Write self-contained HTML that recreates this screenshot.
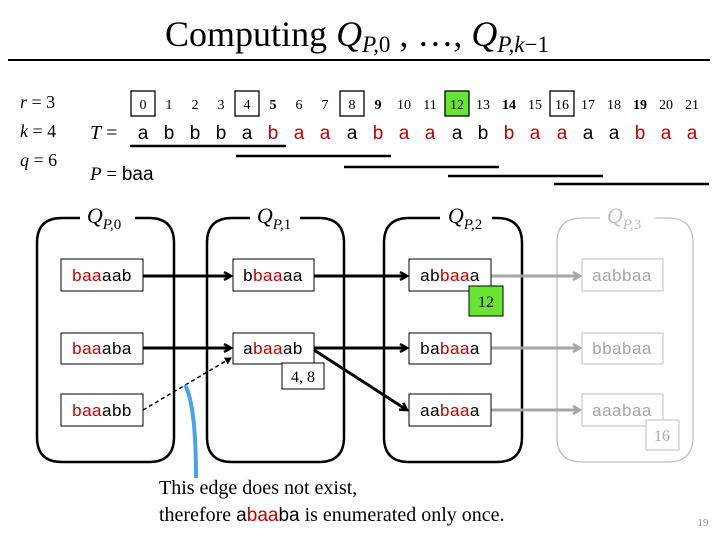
<!DOCTYPE html>
<html><head><meta charset="utf-8"><style>
html,body{margin:0;padding:0;background:#fff;}
svg{display:block;}
.s{font-family:"Liberation Serif",serif;}
.a{font-family:"Liberation Sans",sans-serif;}
</style></head><body>
<svg width="720" height="540" viewBox="0 0 720 540" xmlns="http://www.w3.org/2000/svg">
<defs>
<marker id="ab" markerWidth="10" markerHeight="10" refX="8" refY="5" orient="auto" markerUnits="userSpaceOnUse"><path d="M1,1 L8,5 L1,9" fill="none" stroke="#000" stroke-width="2.5"/></marker>
<marker id="ag" markerWidth="10" markerHeight="10" refX="8" refY="5" orient="auto" markerUnits="userSpaceOnUse"><path d="M1,1 L8,5 L1,9" fill="none" stroke="#a6a6a6" stroke-width="2.5"/></marker>
<marker id="ad" markerWidth="8" markerHeight="8" refX="6" refY="4" orient="auto" markerUnits="userSpaceOnUse"><path d="M0,0 L7,4 L0,8 z" fill="#000"/></marker>
</defs>
<!-- title -->
<text x="357" y="46" text-anchor="middle" class="s" font-size="36">Computing <tspan font-style="italic">Q</tspan><tspan font-style="italic" font-size="23" dy="6">P,</tspan><tspan font-size="23">0</tspan><tspan dy="-6"> , …, </tspan><tspan font-style="italic">Q</tspan><tspan font-style="italic" font-size="23" dy="6">P,k</tspan><tspan font-size="23">−1</tspan></text>
<line x1="8" y1="60" x2="710" y2="60" stroke="#000" stroke-width="2"/>
<!-- params -->
<g class="s" font-size="18">
<text x="20" y="108"><tspan font-style="italic">r</tspan> = 3</text>
<text x="20" y="137"><tspan font-style="italic">k</tspan> = 4</text>
<text x="20" y="166"><tspan font-style="italic">q</tspan> = 6</text>
</g>
<!-- index boxes -->
<g fill="none" stroke="#000" stroke-width="1.3">
<rect x="131" y="91" width="24" height="25"/>
<rect x="235" y="91" width="24" height="25"/>
<rect x="340" y="91" width="24" height="25"/>
<rect x="550" y="91" width="24" height="25"/>
</g>
<rect x="445" y="91" width="24" height="25" fill="#66e633" stroke="#000" stroke-width="1.3"/>
<g class="s" font-size="14" text-anchor="middle">
<text x="143" y="109">0</text><text x="169" y="109">1</text><text x="195" y="109">2</text><text x="221" y="109">3</text><text x="247" y="109">4</text><text x="273" y="109" font-weight="bold">5</text><text x="299" y="109">6</text><text x="325" y="109">7</text><text x="352" y="109">8</text><text x="378" y="109" font-weight="bold">9</text><text x="404" y="109">10</text><text x="430" y="109">11</text><text x="457" y="109">12</text><text x="483" y="109">13</text><text x="509" y="109" font-weight="bold">14</text><text x="535" y="109">15</text><text x="562" y="109">16</text><text x="588" y="109">17</text><text x="614" y="109">18</text><text x="640" y="109" font-weight="bold">19</text><text x="666" y="109">20</text><text x="692" y="109">21</text>
</g>
<text x="90" y="139" class="s" font-size="20"><tspan font-style="italic">T</tspan> =</text>
<g class="a" font-size="19" text-anchor="middle">
<text x="143" y="139">a</text><text x="169" y="139">b</text><text x="195" y="139">b</text><text x="221" y="139">b</text><text x="247" y="139">a</text><text x="273" y="139" fill="#c00000">b</text><text x="299" y="139" fill="#c00000">a</text><text x="325" y="139" fill="#c00000">a</text><text x="352" y="139">a</text><text x="378" y="139" fill="#c00000">b</text><text x="404" y="139" fill="#c00000">a</text><text x="430" y="139" fill="#c00000">a</text><text x="457" y="139">a</text><text x="483" y="139">b</text><text x="509" y="139" fill="#c00000">b</text><text x="535" y="139" fill="#c00000">a</text><text x="562" y="139" fill="#c00000">a</text><text x="588" y="139">a</text><text x="614" y="139">a</text><text x="640" y="139" fill="#c00000">b</text><text x="666" y="139" fill="#c00000">a</text><text x="692" y="139" fill="#c00000">a</text>
</g>
<g stroke="#000" stroke-width="2.5">
<line x1="130" y1="146" x2="286" y2="146"/>
<line x1="236" y1="156" x2="391" y2="156"/>
<line x1="344" y1="167" x2="499" y2="167"/>
<line x1="448" y1="176" x2="603" y2="176"/>
<line x1="554" y1="184" x2="709" y2="184"/>
</g>
<text x="90" y="180" font-size="19"><tspan class="s" font-style="italic">P</tspan><tspan class="s"> = </tspan><tspan class="a">baa</tspan></text>
<!-- containers -->
<g fill="none" stroke-width="2.5" stroke="#000">
<path d="M80,218 H62 Q37,218 37,243 V437 Q37,462 62,462 H149 Q174,462 174,437 V243 Q174,218 149,218 H135"/>
<path d="M250,218 H232 Q207,218 207,243 V437 Q207,462 232,462 H319 Q344,462 344,437 V243 Q344,218 319,218 H300"/>
<path d="M440,218 H409 Q384,218 384,243 V437 Q384,462 409,462 H497 Q522,462 522,437 V243 Q522,218 497,218 H492"/>
</g>
<path d="M600,218 H582 Q557,218 557,243 V437 Q557,462 582,462 H668 Q693,462 693,437 V243 Q693,218 668,218 H655" fill="none" stroke="#bfbfbf" stroke-width="1.3"/>
<g class="s" font-size="22" font-style="italic" text-anchor="middle">
<text x="104" y="223">Q<tspan font-size="15" dy="6">P,</tspan><tspan font-style="normal" font-size="15">0</tspan></text>
<text x="274" y="223">Q<tspan font-size="15" dy="6">P,</tspan><tspan font-style="normal" font-size="15">1</tspan></text>
<text x="465" y="223">Q<tspan font-size="15" dy="6">P,</tspan><tspan font-style="normal" font-size="15">2</tspan></text>
<text x="624" y="223" fill="#bfbfbf">Q<tspan font-size="15" dy="6">P,</tspan><tspan font-style="normal" font-size="15">3</tspan></text>
</g>
<!-- arrows -->
<g stroke="#000" stroke-width="3" marker-end="url(#ab)">
<line x1="143" y1="276" x2="231" y2="276"/>
<line x1="314" y1="276" x2="407" y2="276"/>
<line x1="143" y1="348" x2="231" y2="348"/>
<line x1="314" y1="348" x2="407" y2="348"/>
<line x1="314" y1="350" x2="407" y2="410"/>
</g>
<g stroke="#a6a6a6" stroke-width="3" marker-end="url(#ag)">
<line x1="491" y1="276" x2="580" y2="276"/>
<line x1="491" y1="348" x2="580" y2="348"/>
<line x1="491" y1="410" x2="580" y2="410"/>
</g>
<line x1="143" y1="410" x2="231" y2="358" stroke="#000" stroke-width="1.5" stroke-dasharray="4,3" marker-end="url(#ad)"/>
<path d="M196,478 Q196,405 185,385" fill="none" stroke="#4aa3e8" stroke-width="4"/>
<!-- boxes -->
<g fill="#fff" stroke="#000" stroke-width="1">
<rect x="61" y="259" width="82" height="32"/><rect x="61" y="333" width="82" height="31"/><rect x="61" y="394" width="82" height="32"/>
<rect x="233" y="259" width="81" height="32"/><rect x="233" y="333" width="81" height="31"/>
<rect x="409" y="259" width="82" height="32"/><rect x="409" y="333" width="82" height="31"/><rect x="409" y="394" width="82" height="32"/>
</g>
<g fill="#fff" stroke="#bfbfbf" stroke-width="1">
<rect x="582" y="259" width="81" height="32"/><rect x="582" y="333" width="81" height="31"/><rect x="582" y="394" width="81" height="32"/>
</g>
<rect x="469" y="286" width="34" height="30" fill="#66e633" stroke="#000"/>
<rect x="282" y="363" width="42" height="26" fill="#fff" stroke="#000"/>
<rect x="646" y="420" width="33" height="30" fill="#fff" stroke="#bfbfbf"/>
<g class="s" font-size="16" text-anchor="middle">
<text x="486" y="307">12</text><text x="303" y="382">4, 8</text><text x="662" y="441" fill="#a6a6a6">16</text>
</g>
<g class="a" font-size="17" text-anchor="middle" letter-spacing="0.5">
<text x="102" y="281"><tspan fill="#c00000">baa</tspan>aab</text>
<text x="102" y="354"><tspan fill="#c00000">baa</tspan>aba</text>
<text x="102" y="416"><tspan fill="#c00000">baa</tspan>abb</text>
<text x="273" y="281">b<tspan fill="#c00000">baa</tspan>aa</text>
<text x="273" y="354">a<tspan fill="#c00000">baa</tspan>ab</text>
<text x="450" y="281">ab<tspan fill="#c00000">baa</tspan>a</text>
<text x="450" y="354">ba<tspan fill="#c00000">baa</tspan>a</text>
<text x="450" y="416">aa<tspan fill="#c00000">baa</tspan>a</text>
<g fill="#a6a6a6">
<text x="622" y="281">aabbaa</text><text x="622" y="354">bbabaa</text><text x="622" y="416">aaabaa</text>
</g>
</g>
<text x="159" y="494" class="s" font-size="20">This edge does not exist,</text>
<text x="159" y="521" class="s" font-size="20">therefore <tspan class="a" font-size="19">a<tspan fill="#c00000">baa</tspan>ba</tspan> is enumerated only once.</text>
<text x="703" y="526" class="s" font-size="11" fill="#888" text-anchor="middle">19</text>
</svg>
</body></html>
